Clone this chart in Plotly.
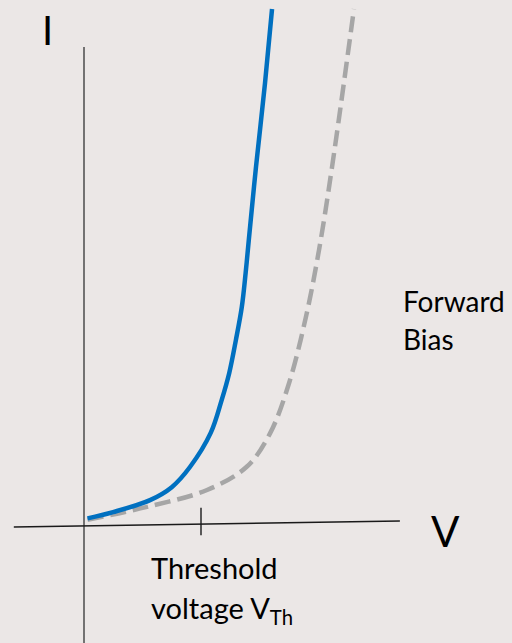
import plotly.graph_objects as go

# Forward-bias I-V curves (V in volts, I in arbitrary units)
v_blue = [0.021, 0.174, 0.395, 0.525, 0.634, 0.758, 0.824, 0.869, 0.909,
          0.944, 0.967, 0.986, 1.029, 1.083, 1.125]
i_blue = [0.18, 0.31, 0.56, 0.83, 1.25, 1.96, 2.65, 3.21, 3.90,
          4.58, 5.29, 5.98, 7.50, 9.25, 10.79]
v_gray = [0.021, 0.377, 0.736, 0.975, 1.113, 1.227, 1.328, 1.406, 1.484, 1.615]
i_gray = [0.15, 0.42, 0.77, 1.26, 1.95, 3.00, 4.38, 5.77, 7.50, 10.79]

v_threshold = 0.70
x_axis_v = [-0.42, 1.89]
x_axis_i = [0.0, 0.125]
y_axis_i = [-2.6, 10.0]
tick_i = [0.40, -0.17]

BG = "#ebe7e6"
FONT = "Lato"

fig = go.Figure()

# axes drawn as lines
fig.add_trace(go.Scatter(x=[0, 0], y=y_axis_i, mode="lines",
                         line=dict(color="#404040", width=1.4), hoverinfo="skip"))
fig.add_trace(go.Scatter(x=x_axis_v, y=x_axis_i, mode="lines",
                         line=dict(color="#1a1a1a", width=1.4), hoverinfo="skip"))
fig.add_trace(go.Scatter(x=[v_threshold, v_threshold], y=tick_i, mode="lines",
                         line=dict(color="#1a1a1a", width=1.4), hoverinfo="skip"))

fig.add_trace(go.Scatter(x=v_gray, y=i_gray, mode="lines",
                         line=dict(color="#a6a6a6", width=4.5, dash="16px,7px",
                                   shape="spline", smoothing=1.0),
                         hoverinfo="skip"))
fig.add_trace(go.Scatter(x=v_blue, y=i_blue, mode="lines",
                         line=dict(color="#0070c0", width=4.5, shape="spline", smoothing=1.0),
                         hoverinfo="skip"))

W, H = 512, 643


def ann(text, px, py, size, xanchor="left"):
    fig.add_annotation(text=text, x=px / W, y=1 - py / H, xref="paper", yref="paper",
                       xanchor=xanchor, yanchor="middle", showarrow=False,
                       font=dict(family=FONT, size=size, color="#000000"))


ann("I", 47, 30, 40, "center")
ann("V", 445, 531, 42, "center")
ann("Forward", 401, 301, 28)
ann("Bias", 401, 339, 28)
ann("Threshold", 149, 567, 29)
ann("voltage V<sub>Th</sub>", 149, 609, 29)

fig.update_layout(
    width=W, height=H,
    margin=dict(l=0, r=0, t=0, b=0),
    paper_bgcolor=BG, plot_bgcolor=BG,
    showlegend=False,
    xaxis=dict(range=[-0.5026, 2.5607], visible=False, fixedrange=True),
    yaxis=dict(range=[-2.4167, 10.979], visible=False, fixedrange=True),
)

fig.write_html("out.html",
               config={"displayModeBar": False, "staticPlot": True},
               post_script="document.body.style.margin='0';"
                           "document.body.style.background='" + BG + "';")
